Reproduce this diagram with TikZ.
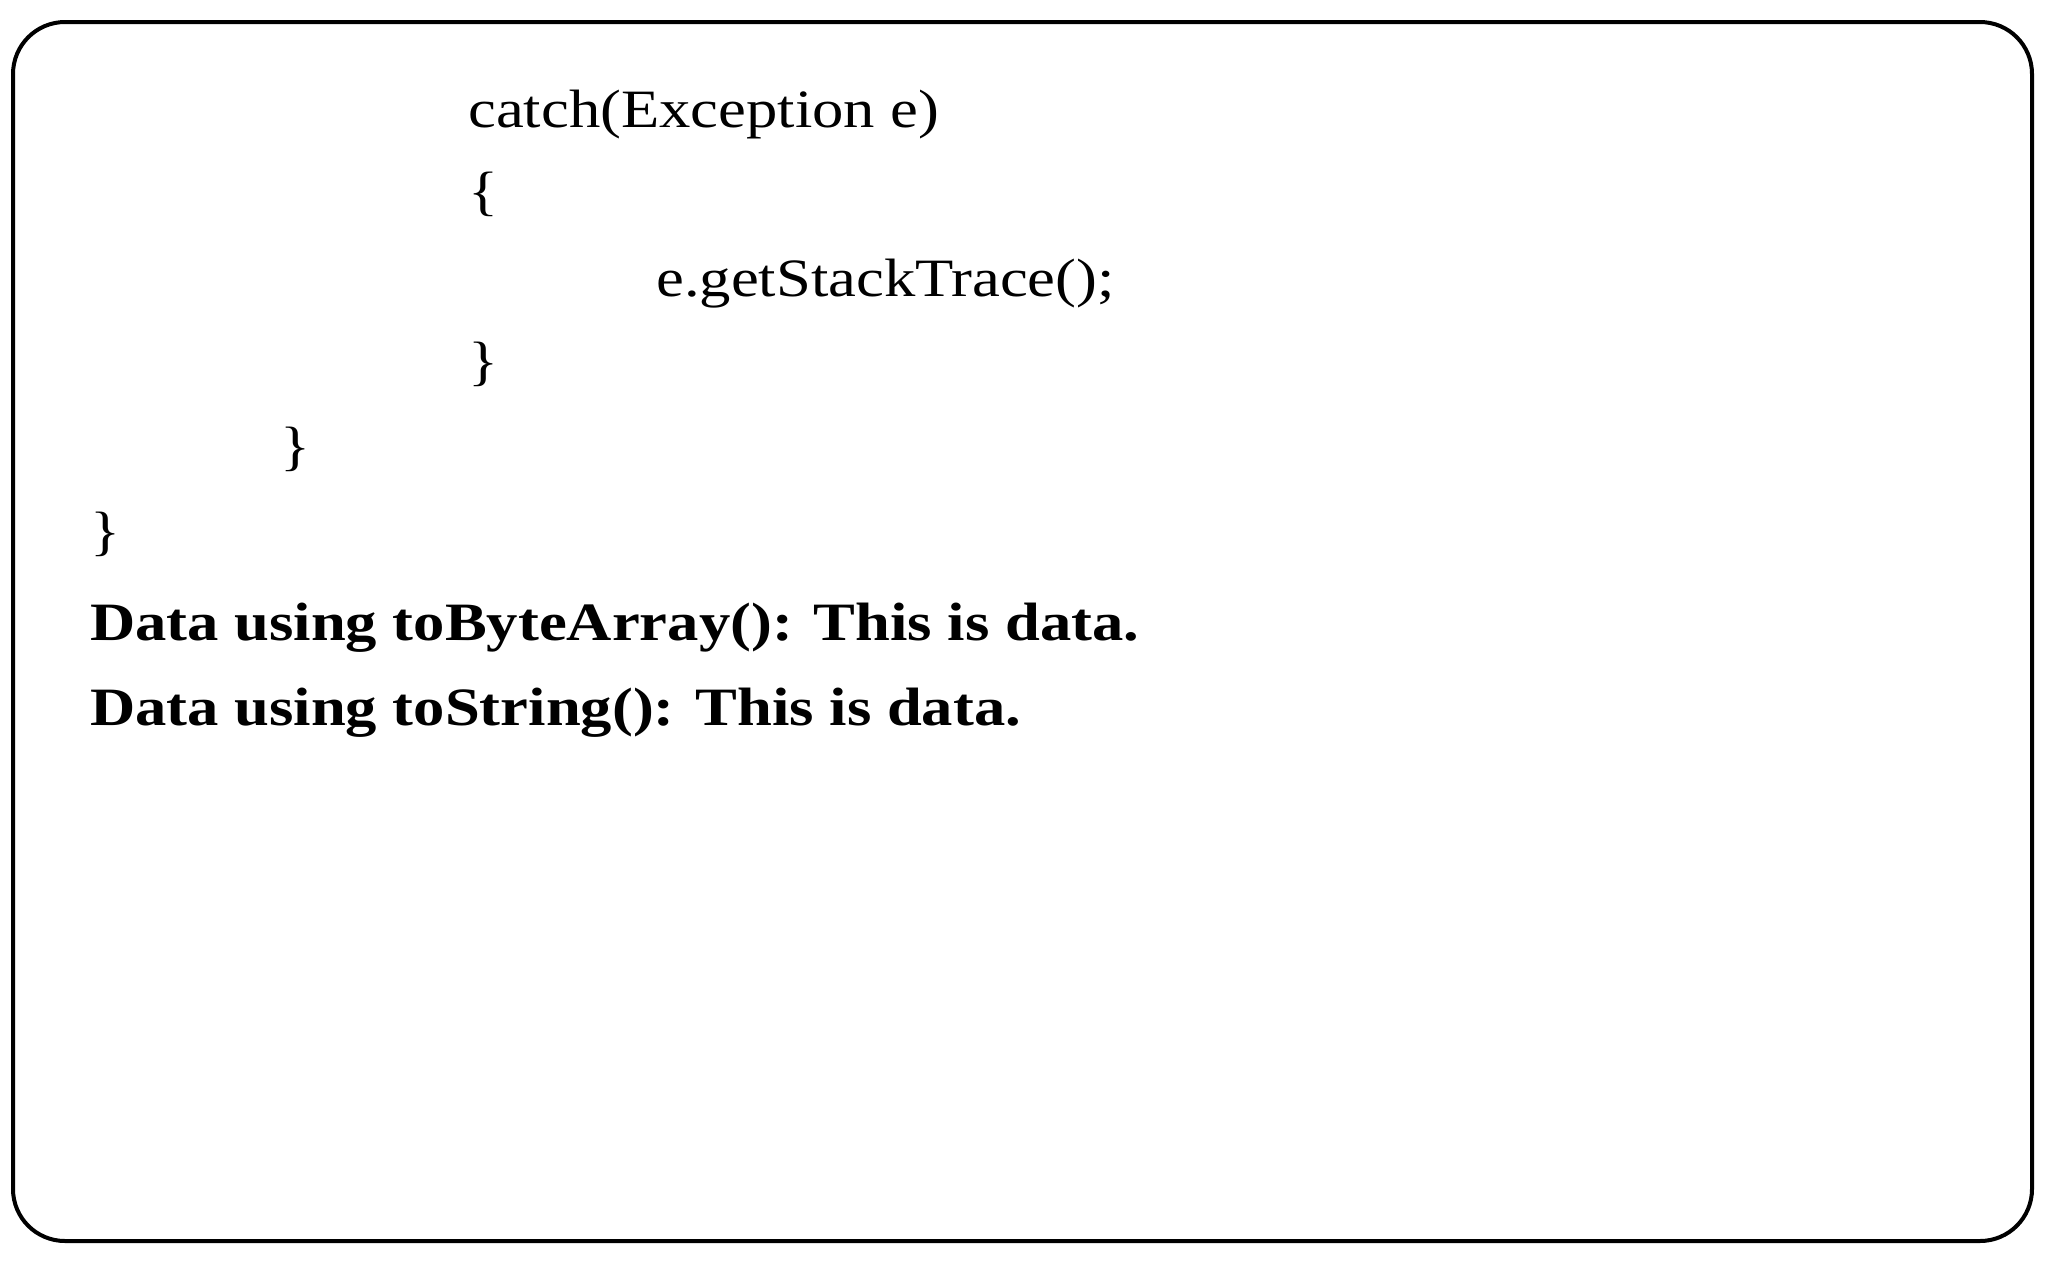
\documentclass[tikz,border=0pt]{standalone}
\usepackage{fontspec}
\setmainfont{Liberation Serif}[FakeStretch=1.16]
\begin{document}
\begin{tikzpicture}[x=1pt,y=-1pt,
  txt/.style={anchor=base west,inner sep=0pt,font=\fontsize{54}{60}\selectfont},
  btxt/.style={txt,font=\fontsize{54}{60}\selectfont\bfseries}]
\useasboundingbox (0,0) rectangle (2048,1270);
\draw[line width=4pt,rounded corners=52pt] (13,22) rectangle (2032,1241);
\node[txt] (l1) at (468,127) {catch(Exception e)};
\node[txt] (l2) at (468,209) {\{};
\node[txt] (l3) at (656,296) {e.getStackTrace();};
\node[txt] (l4) at (468,379) {\}};
\node[txt] (l5) at (280,464) {\}};
\node[txt] (l6) at (90,549) {\}};
\node[btxt] (l7) at (90,640) {Data using toByteArray(): This is data.};
\node[btxt] (l8) at (90,725) {Data using toString(): This is data.};
\end{tikzpicture}
\end{document}
